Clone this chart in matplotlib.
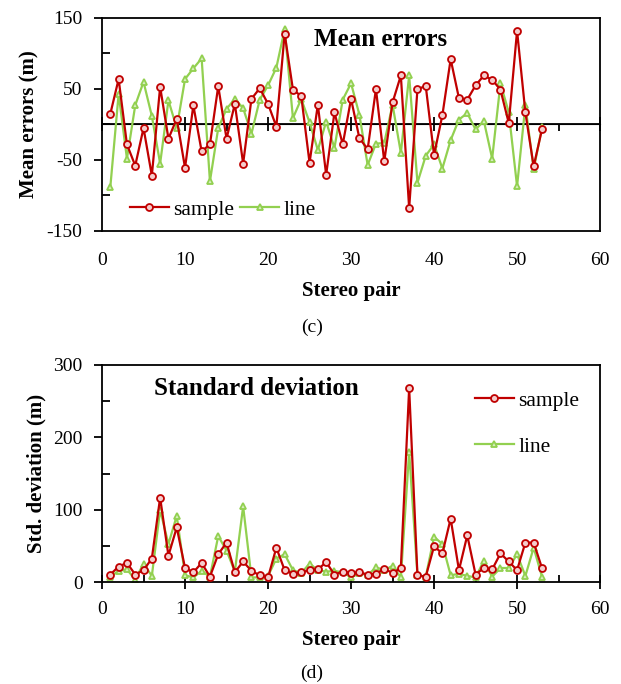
import numpy as np
import matplotlib.pyplot as plt
from matplotlib.ticker import MultipleLocator

plt.rcParams['font.family'] = ['Liberation Serif', 'DejaVu Serif']
plt.rcParams['axes.unicode_minus'] = False

pairs = list(range(1, 54))

# mean errors (m)
mean_sample = [15, 64, -28, -58, -5, -72, 53, -20, 8, -61,
               27, -38, -28, 54, -20, 29, -55, 36, 51, 29,
               -3, 128, 49, 40, -54, 28, -71, 17, -28, 36,
               -19, -35, 50, -52, 31, 69, -118, 50, 54, -43,
               13, 92, 37, 35, 55, 69, 63, 49, 2, 132,
               17, -59, -7]
mean_line = [-88, 43, -48, 27, 60, 12, -55, 34, -5, 64,
             79, 93, -80, -5, 22, 36, 23, -13, 35, 55,
             80, 134, 9, 36, 3, -36, 4, -33, 35, 58,
             14, -57, -27, -26, 28, -40, 69, -82, -44, -28,
             -62, -22, 7, 16, -7, 5, -48, 58, 17, -87,
             27, -63, -4]

# standard deviation (m)
std_sample = [11, 22, 27, 11, 17, 33, 117, 37, 76, 20,
              14, 27, 8, 39, 55, 14, 29, 16, 10, 7,
              48, 17, 12, 14, 17, 18, 28, 11, 15, 13,
              14, 11, 12, 19, 13, 20, 268, 10, 8, 50,
              40, 88, 17, 65, 11, 20, 18, 40, 29, 17,
              55, 55, 20]
std_line = [8, 16, 18, 4, 26, 9, 100, 53, 92, 10,
            7, 16, 8, 64, 44, 15, 105, 7, 7, 9,
            33, 39, 17, 13, 26, 17, 15, 16, 14, 7,
            13, 10, 21, 17, 23, 7, 180, 10, 8, 63,
            53, 10, 12, 9, 7, 30, 8, 20, 20, 39,
            9, 48, 8]

RED = '#C00000'
GREEN = '#92D050'
TICK_FS = 14
LAB_FS = 15

fig = plt.figure(figsize=(6.21, 6.84), dpi=100)

def style(ax):
    for s in ax.spines.values():
        s.set_linewidth(1.3)
    ax.set_xlim(0, 60)
    ax.xaxis.set_major_locator(MultipleLocator(10))
    ax.xaxis.set_minor_locator(MultipleLocator(5))
    ax.tick_params(axis='both', labelsize=TICK_FS, width=1.3)
    ax.tick_params(axis='y', which='major', direction='out', length=6, pad=8)
    ax.tick_params(axis='y', which='minor', direction='in', length=6, width=1.3)
    ax.set_xlabel('Stereo pair', fontsize=LAB_FS, fontweight='bold', labelpad=9)

def draw(ax, s, l):
    ax.plot(pairs, s, color=RED, lw=1.6, marker='o', ms=5, mfc='#F4CCCC',
            mec=RED, mew=1.3, label='sample', zorder=3)
    ax.plot(pairs, l, color=GREEN, lw=1.6, marker='^', ms=5, mfc='#D8EEC0',
            mec=GREEN, mew=1.3, label='line', zorder=2)

# (c) mean errors
ax1 = fig.add_axes([0.1643, 0.6623, 0.802, 0.3114])
draw(ax1, mean_sample, mean_line)
style(ax1)
ax1.set_ylim(-150, 150)
ax1.yaxis.set_major_locator(MultipleLocator(100, offset=50))
ax1.yaxis.set_minor_locator(MultipleLocator(50))
ax1.tick_params(axis='x', which='both', length=0, pad=15)
ax1.axhline(0, color='black', lw=1.3, zorder=1)
sec = ax1.secondary_xaxis(0.5)
sec.xaxis.set_major_locator(MultipleLocator(10))
sec.xaxis.set_minor_locator(MultipleLocator(5))
sec.tick_params(axis='x', which='major', direction='inout', length=10, width=1.3, labelbottom=False)
sec.tick_params(axis='x', which='minor', direction='in', length=5, width=1.3)
sec.spines['bottom'].set_visible(False)
sec.set_xticklabels([])
ax1.set_ylabel('Mean errors (m)', fontsize=LAB_FS, fontweight='bold', labelpad=5)
ax1.text(0.56, 0.897, 'Mean errors', transform=ax1.transAxes, fontsize=18,
         fontweight='bold', ha='center', va='center')
ax1.legend(loc='center left', ncol=2, frameon=False, fontsize=15.5,
           bbox_to_anchor=(0.056, 0.1), borderaxespad=0, borderpad=0,
           handlelength=1.8, columnspacing=0.3, handletextpad=0.2)
fig.text(0.502, 0.521, '(c)', fontsize=TICK_FS, ha='center', va='center')

# (d) standard deviation
ax2 = fig.add_axes([0.1643, 0.1484, 0.802, 0.318])
draw(ax2, std_sample, std_line)
style(ax2)
ax2.set_ylim(0, 300)
ax2.yaxis.set_major_locator(MultipleLocator(100))
ax2.yaxis.set_minor_locator(MultipleLocator(50))
ax2.tick_params(axis='x', which='major', direction='inout', length=10, pad=8)
ax2.tick_params(axis='x', which='minor', direction='in', length=5, width=1.3)
ax2.set_ylabel('Std. deviation (m)', fontsize=LAB_FS, fontweight='bold', labelpad=5)
ax2.text(0.309, 0.89, 'Standard deviation', transform=ax2.transAxes, fontsize=18,
         fontweight='bold', ha='center', va='center')
ax2.legend(loc='upper left', frameon=False, fontsize=15.5, bbox_to_anchor=(0.749, 0.881),
           borderaxespad=0, borderpad=0, handlelength=1.8, labelspacing=1.2,
           handletextpad=0.2)
fig.text(0.502, 0.016, '(d)', fontsize=TICK_FS, ha='center', va='center')

fig.savefig('out.png', dpi=100)
